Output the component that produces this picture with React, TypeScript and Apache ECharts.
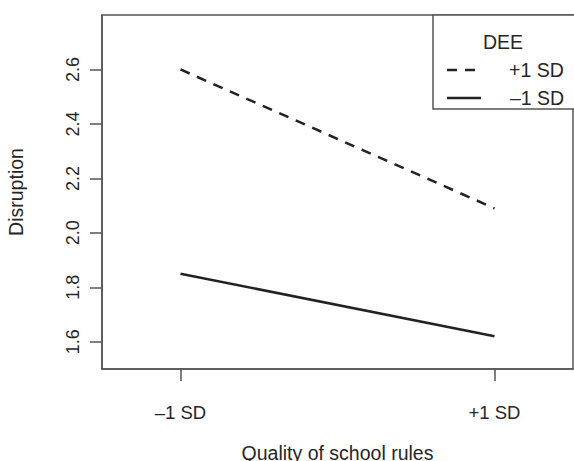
import React, { useEffect, useRef } from "react";
import * as echarts from "echarts";

const xCategories = ["–1 SD", "+1 SD"];
const xPositions = [-1, 1];
const yTicks = [1.6, 1.8, 2.0, 2.2, 2.4, 2.6];
const seriesNames = ["+1 SD", "–1 SD"];
const deeHigh = [2.6, 2.09];
const deeLow = [1.85, 1.62];
const legendTitle = "DEE";
const xTitle = "Quality of school rules";
const yTitle = "Disruption";

const FONT = "Liberation Sans, Arial, Helvetica, sans-serif";
const AXIS = "#555";
const TEXT = "#262626";
const LINE = "#222";

export default function App() {
  const ref = useRef<HTMLDivElement>(null);
  useEffect(() => {
    const chart = echarts.init(ref.current!, null, { renderer: "svg" });
    const labelFor = (v: number) => {
      const i = xPositions.indexOf(v);
      return i >= 0 ? xCategories[i] : "";
    };
    chart.setOption({
      animation: false,
      backgroundColor: "#fff",
      grid: {
        left: 102,
        top: 15,
        right: 1,
        bottom: 92,
        containLabel: false,
        outerBoundsMode: "none",
        show: true,
        borderColor: AXIS,
        borderWidth: 1.5,
      },
      xAxis: {
        type: "value",
        min: -1.5,
        max: 1.5,
        splitLine: { show: false },
        axisLine: { show: true, onZero: false, lineStyle: { color: AXIS, width: 1.5 } },
        axisTick: {
          show: true,
          length: 12,
          customValues: xPositions,
          lineStyle: { color: AXIS, width: 1.5 },
        },
        axisLabel: {
          customValues: xPositions,
          formatter: (v: number) => labelFor(v),
          color: TEXT,
          fontFamily: FONT,
          fontSize: 18.5,
          margin: 34,
        },
        name: xTitle,
        nameLocation: "middle",
        nameGap: 74,
        nameTextStyle: { color: TEXT, fontFamily: FONT, fontSize: 19.5 },
      },
      yAxis: {
        type: "value",
        min: 1.5,
        max: 2.8,
        splitLine: { show: false },
        axisLine: { show: true, onZero: false, lineStyle: { color: AXIS, width: 1.5 } },
        axisTick: {
          show: true,
          length: 12,
          customValues: yTicks,
          lineStyle: { color: AXIS, width: 1.5 },
        },
        axisLabel: {
          customValues: yTicks,
          formatter: (v: number) => v.toFixed(1),
          rotate: 90,
          color: TEXT,
          fontFamily: FONT,
          fontSize: 18,
          margin: 20,
        },
        name: yTitle,
        nameLocation: "middle",
        nameRotate: 90,
        nameGap: 76,
        nameTextStyle: { color: TEXT, fontFamily: FONT, fontSize: 19.5 },
      },
      series: [
        {
          name: seriesNames[0],
          type: "line",
          data: xPositions.map((x, i) => [x, deeHigh[i]]),
          showSymbol: false,
          lineStyle: { color: LINE, width: 2.5, type: [10, 8] },
        },
        {
          name: seriesNames[1],
          type: "line",
          data: xPositions.map((x, i) => [x, deeLow[i]]),
          showSymbol: false,
          lineStyle: { color: LINE, width: 2.5, type: "solid" },
        },
      ],
      graphic: [
        {
          type: "rect",
          shape: { x: 433, y: 15, width: 150, height: 94 },
          style: { fill: "#fff", stroke: AXIS, lineWidth: 1.5 },
          z: 10,
        },
        {
          type: "text",
          x: 503,
          y: 42,
          style: {
            text: legendTitle,
            fill: TEXT,
            font: `19.5px ${FONT}`,
            align: "center",
            verticalAlign: "middle",
          },
          z: 11,
        },
        {
          type: "line",
          shape: { x1: 447, y1: 70, x2: 481, y2: 70 },
          style: { stroke: LINE, lineWidth: 2.5, lineDash: [10, 8] },
          z: 11,
        },
        {
          type: "text",
          x: 509,
          y: 70,
          style: {
            text: seriesNames[0],
            fill: TEXT,
            font: `19.5px ${FONT}`,
            align: "left",
            verticalAlign: "middle",
          },
          z: 11,
        },
        {
          type: "line",
          shape: { x1: 447, y1: 98, x2: 481, y2: 98 },
          style: { stroke: LINE, lineWidth: 2.5 },
          z: 11,
        },
        {
          type: "text",
          x: 510,
          y: 98,
          style: {
            text: seriesNames[1],
            fill: TEXT,
            font: `19.5px ${FONT}`,
            align: "left",
            verticalAlign: "middle",
          },
          z: 11,
        },
      ],
    });
    return () => chart.dispose();
  }, []);
  return (
    <div
      ref={ref}
      style={{ position: "fixed", left: 0, top: 0, width: 574, height: 461 }}
    />
  );
}
